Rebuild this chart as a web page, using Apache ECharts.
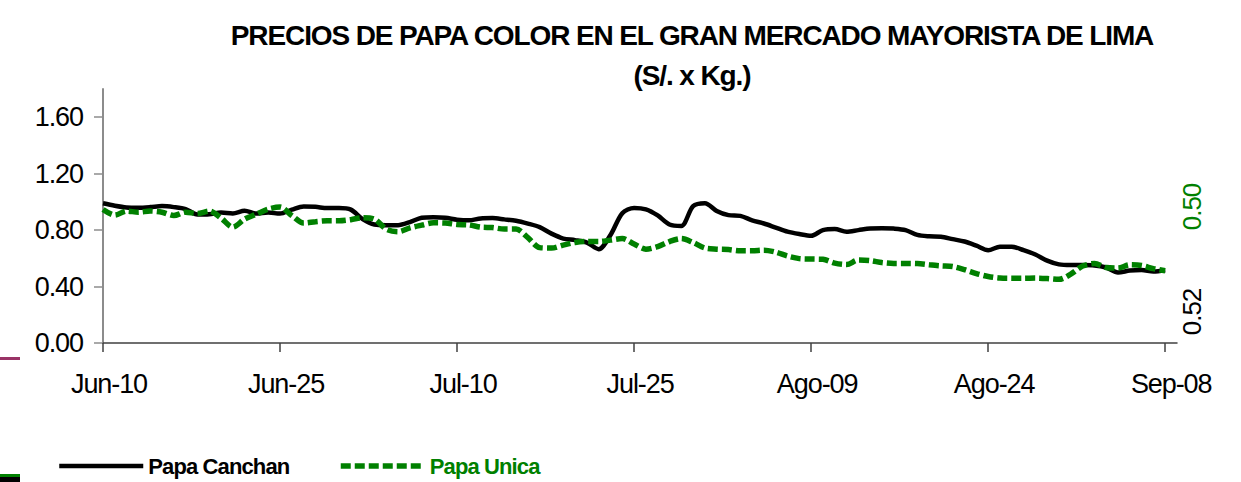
<!DOCTYPE html>
<html>
<head>
<meta charset="utf-8">
<script src="https://cdn.jsdelivr.net/npm/echarts@6/dist/echarts.min.js"></script>
<style>
  body { margin: 0; background: #fff; }
  #chart { width: 1241px; height: 482px; }
  /* the source chart uses tightly tracked Arial */
  #chart text { letter-spacing: -0.04em; }
</style>
</head>
<body>
<div id="chart"></div>
<script>
const months = ['Ene', 'Feb', 'Mar', 'Abr', 'May', 'Jun', 'Jul', 'Ago', 'Sep', 'Oct', 'Nov', 'Dic']
const startDay = { month: 5, day: 10 }
const dayCount = 92 // Jun-10 .. Sep-09 (axis runs one day past the last point)
const tickEvery = 15
const tickLabels = ['Jun-10', 'Jun-25', 'Jul-10', 'Jul-25', 'Ago-09', 'Ago-24', 'Sep-08']
const yTicks = [0, 0.4, 0.8, 1.2, 1.6]

const papaCanchan = [
  0.99, 0.973, 0.961, 0.959, 0.963, 0.970, 0.963, 0.949, 0.911, 0.913,
  0.924, 0.918, 0.937, 0.917, 0.924, 0.917, 0.945, 0.968, 0.965, 0.956,
  0.956, 0.945, 0.878, 0.840, 0.835, 0.835, 0.857, 0.888, 0.892, 0.888,
  0.874, 0.869, 0.883, 0.885, 0.876, 0.866, 0.846, 0.821, 0.775, 0.740,
  0.729, 0.712, 0.665, 0.765, 0.920, 0.957, 0.947, 0.904, 0.840, 0.830,
  0.970, 0.991, 0.936, 0.906, 0.901, 0.869, 0.847, 0.818, 0.789, 0.772,
  0.760, 0.800, 0.808, 0.789, 0.800, 0.811, 0.814, 0.811, 0.800, 0.766,
  0.756, 0.753, 0.736, 0.719, 0.690, 0.658, 0.682, 0.682, 0.658, 0.627,
  0.584, 0.557, 0.552, 0.552, 0.550, 0.535, 0.499, 0.513, 0.517, 0.506, 0.515
]

const papaUnica = [
  0.946, 0.906, 0.935, 0.927, 0.935, 0.927, 0.903, 0.927, 0.917, 0.935,
  0.885, 0.821, 0.878, 0.913, 0.949, 0.963, 0.903, 0.850, 0.860, 0.866,
  0.866, 0.874, 0.888, 0.878, 0.807, 0.789, 0.816, 0.835, 0.852, 0.850,
  0.840, 0.837, 0.821, 0.818, 0.807, 0.807, 0.747, 0.676, 0.673, 0.694,
  0.712, 0.719, 0.719, 0.729, 0.740, 0.701, 0.665, 0.683, 0.719, 0.740,
  0.712, 0.673, 0.665, 0.662, 0.653, 0.653, 0.658, 0.644, 0.616, 0.598,
  0.595, 0.593, 0.566, 0.556, 0.588, 0.584, 0.570, 0.564, 0.564, 0.563,
  0.554, 0.547, 0.542, 0.520, 0.492, 0.471, 0.460, 0.458, 0.458, 0.460,
  0.457, 0.451, 0.488, 0.545, 0.563, 0.535, 0.531, 0.554, 0.549, 0.527, 0.512
]

const endLabels = ['0.50', '0.52']

// daily category list, e.g. 'Jun-10'
const categories = []
for (let i = 0; i < dayCount; i++) {
  const d = new Date(2000, startDay.month, startDay.day + i)
  categories.push(`${months[d.getMonth()]}-${String(d.getDate()).padStart(2, '0')}`)
}

const font = 'Liberation Sans, Arial, sans-serif'
const green = '#008000'

const chart = echarts.init(document.getElementById('chart'), null, { renderer: 'svg' })

chart.setOption({
  backgroundColor: '#fff',
  animation: false,
  title: {
    text: 'PRECIOS DE PAPA COLOR EN EL GRAN MERCADO MAYORISTA DE LIMA',
    subtext: '(S/. x Kg.)',
    left: 692,
    top: 21,
    padding: 0,
    textAlign: 'center',
    itemGap: 12,
    textStyle: { fontFamily: font, fontWeight: 'bold', fontSize: 28, color: '#000' },
    subtextStyle: { fontFamily: font, fontWeight: 'bold', fontSize: 28, color: '#000' },
  },
  legend: [
    {
      left: 52,
      top: 450,
      itemWidth: 84,
      itemHeight: 14,
      itemStyle: { opacity: 0 },
      data: [{ name: 'Papa Canchan', lineStyle: { width: 4.5 }, textStyle: { color: '#000' } }],
      textStyle: { fontFamily: font, fontWeight: 'bold', fontSize: 22 },
    },
    {
      left: 333,
      top: 450,
      itemWidth: 84,
      itemHeight: 14,
      itemStyle: { opacity: 0 },
      data: [{ name: 'Papa Unica', lineStyle: { width: 5.5 }, textStyle: { color: green } }],
      textStyle: { fontFamily: font, fontWeight: 'bold', fontSize: 22 },
    },
  ],
  grid: { left: 103, right: 64, top: 89, bottom: 139, outerBoundsMode: 'none' },
  xAxis: {
    type: 'category',
    boundaryGap: false,
    data: categories,
    axisLine: { lineStyle: { color: '#404040', width: 1.5 } },
    axisTick: { show: true, interval: tickEvery - 1, length: 9, lineStyle: { color: '#404040', width: 1.5 } },
    axisLabel: {
      interval: tickEvery - 1,
      margin: 27,
      padding: [0, 0, 0, 12],
      fontFamily: font,
      fontSize: 27,
      color: '#000',
      formatter: (v) => (tickLabels.includes(v) ? v : ''),
    },
    splitLine: { show: false },
  },
  yAxis: {
    type: 'value',
    min: 0,
    max: 1.8,
    axisLine: { show: true, lineStyle: { color: '#8c8c8c', width: 2 } },
    axisTick: { show: true, length: 9, customValues: yTicks, lineStyle: { color: '#8c8c8c', width: 1.5 } },
    axisLabel: {
      customValues: yTicks,
      margin: 20,
      fontFamily: font,
      fontSize: 27,
      color: '#000',
      formatter: (v) => v.toFixed(2),
    },
    splitLine: { show: false },
  },
  series: [
    {
      name: 'Papa Canchan',
      type: 'line',
      data: papaCanchan,
      smooth: 0.3,
      symbol: 'none',
      lineStyle: { color: '#000', width: 4.5 },
      itemStyle: { color: '#000' },
      z: 2,
    },
    {
      name: 'Papa Unica',
      type: 'line',
      data: papaUnica,
      smooth: 0.3,
      symbol: 'none',
      lineStyle: { color: green, width: 5.5, type: [10, 4] },
      itemStyle: { color: green },
      z: 3,
    },
  ],
  graphic: [
    {
      type: 'text',
      x: 1192,
      y: 207,
      rotation: Math.PI / 2,
      style: { text: endLabels[0], fill: green, font: `26px ${font}`, align: 'center', verticalAlign: 'middle' },
    },
    {
      type: 'text',
      x: 1192,
      y: 312,
      rotation: Math.PI / 2,
      style: { text: endLabels[1], fill: '#000', font: `26px ${font}`, align: 'center', verticalAlign: 'middle' },
    },
    // bits of neighbouring legends cut off at the left edge
    { type: 'rect', shape: { x: 0, y: 357, width: 20, height: 3 }, style: { fill: '#993366' } },
    { type: 'rect', shape: { x: 0, y: 474, width: 20, height: 3 }, style: { fill: green } },
    { type: 'rect', shape: { x: 0, y: 477, width: 20, height: 5 }, style: { fill: '#000' } },
  ],
})
</script>
</body>
</html>
